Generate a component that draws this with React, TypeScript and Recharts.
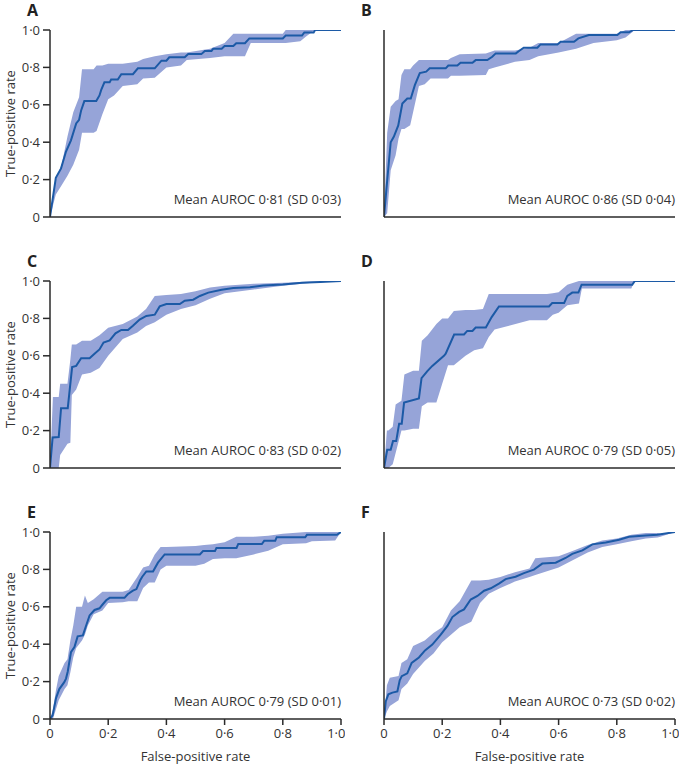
import { ComposedChart, Area, Line, XAxis, YAxis } from "recharts"

// [fpr, mean tpr]
const meanA = [
  [0, 0], [0.02, 0.21], [0.038, 0.26], [0.055, 0.35], [0.072, 0.41], [0.09, 0.5], [0.1, 0.52],
  [0.107, 0.57], [0.118, 0.62], [0.159, 0.62], [0.17, 0.65], [0.176, 0.68], [0.187, 0.72],
  [0.205, 0.72], [0.21, 0.735], [0.233, 0.735], [0.245, 0.764], [0.285, 0.764], [0.302, 0.795],
  [0.36, 0.795], [0.383, 0.836], [0.4, 0.836], [0.41, 0.854], [0.463, 0.854], [0.475, 0.871],
  [0.52, 0.871], [0.532, 0.888], [0.555, 0.888], [0.561, 0.9], [0.59, 0.9], [0.6, 0.914],
  [0.63, 0.914], [0.64, 0.929], [0.67, 0.929], [0.685, 0.955], [0.8, 0.955], [0.81, 0.97],
  [0.866, 0.97], [0.874, 0.987], [0.906, 0.987], [0.911, 1], [1, 1],
]
// [fpr, lower, upper]
const bandA = [
  [0, 0, 0], [0.02, 0.12, 0.2], [0.04, 0.17, 0.28], [0.06, 0.22, 0.43], [0.08, 0.28, 0.56],
  [0.1, 0.36, 0.64], [0.11, 0.45, 0.79], [0.15, 0.45, 0.79], [0.16, 0.46, 0.81], [0.18, 0.55, 0.81],
  [0.2, 0.63, 0.82], [0.22, 0.65, 0.82], [0.25, 0.7, 0.82], [0.3, 0.71, 0.83], [0.32, 0.74, 0.845],
  [0.36, 0.745, 0.86], [0.4, 0.8, 0.87], [0.45, 0.81, 0.88], [0.47, 0.84, 0.88], [0.55, 0.85, 0.9],
  [0.6, 0.86, 0.93], [0.63, 0.86, 0.98], [0.67, 0.86, 0.98], [0.69, 0.93, 0.98], [0.8, 0.93, 0.98],
  [0.81, 0.93, 1], [0.86, 0.94, 1], [0.88, 0.965, 1], [0.91, 1, 1], [1, 1, 1],
]

const meanB = [
  [0, 0], [0.011, 0.196], [0.023, 0.4], [0.034, 0.43], [0.049, 0.49], [0.063, 0.607], [0.08, 0.634],
  [0.092, 0.634], [0.106, 0.705], [0.123, 0.77], [0.145, 0.777], [0.157, 0.795], [0.212, 0.795],
  [0.221, 0.81], [0.252, 0.81], [0.263, 0.825], [0.304, 0.825], [0.315, 0.839], [0.355, 0.839],
  [0.372, 0.857], [0.384, 0.875], [0.453, 0.875], [0.464, 0.888], [0.48, 0.905], [0.527, 0.905],
  [0.538, 0.923], [0.596, 0.923], [0.607, 0.9375], [0.653, 0.9375], [0.668, 0.955], [0.704, 0.973],
  [0.802, 0.973], [0.813, 0.9875], [0.842, 0.9875], [0.856, 1], [1, 1],
]
const bandB = [
  [0, 0, 0], [0.011, 0.02, 0.45], [0.023, 0.25, 0.59], [0.04, 0.33, 0.62], [0.05, 0.42, 0.63],
  [0.06, 0.47, 0.76], [0.07, 0.47, 0.79], [0.09, 0.49, 0.79], [0.1, 0.56, 0.81], [0.12, 0.7, 0.84],
  [0.14, 0.71, 0.84], [0.16, 0.74, 0.84], [0.22, 0.74, 0.84], [0.23, 0.755, 0.85], [0.26, 0.755, 0.87],
  [0.35, 0.76, 0.875], [0.36, 0.79, 0.88], [0.38, 0.8, 0.89], [0.45, 0.83, 0.89], [0.5, 0.84, 0.905],
  [0.53, 0.86, 0.93], [0.6, 0.88, 0.93], [0.66, 0.9, 0.98], [0.72, 0.93, 0.98], [0.8, 0.945, 0.98],
  [0.83, 0.96, 1], [0.855, 0.99, 1], [0.86, 1, 1], [1, 1, 1],
]

const meanC = [
  [0, 0], [0.009, 0.163], [0.03, 0.166], [0.038, 0.32], [0.061, 0.32], [0.076, 0.54], [0.09, 0.546],
  [0.107, 0.587], [0.136, 0.587], [0.153, 0.611], [0.17, 0.634], [0.184, 0.671], [0.205, 0.682],
  [0.225, 0.72], [0.245, 0.738], [0.268, 0.738], [0.285, 0.761], [0.308, 0.794], [0.331, 0.813],
  [0.36, 0.82], [0.377, 0.864], [0.4, 0.877], [0.446, 0.877], [0.463, 0.895], [0.492, 0.9],
  [0.515, 0.92], [0.544, 0.938], [0.59, 0.953], [0.63, 0.963], [0.687, 0.966], [0.733, 0.976],
  [0.8, 0.981], [0.866, 0.99], [0.929, 0.994], [1, 1],
]
const bandC = [
  [0, 0, 0], [0.01, 0, 0.38], [0.03, 0, 0.38], [0.035, 0.07, 0.45], [0.06, 0.13, 0.45],
  [0.07, 0.135, 0.58], [0.075, 0.39, 0.66], [0.09, 0.42, 0.66], [0.11, 0.5, 0.68], [0.14, 0.51, 0.68],
  [0.17, 0.535, 0.71], [0.2, 0.6, 0.75], [0.25, 0.69, 0.77], [0.3, 0.725, 0.81], [0.33, 0.76, 0.85],
  [0.36, 0.78, 0.92], [0.4, 0.82, 0.925], [0.45, 0.85, 0.93], [0.5, 0.87, 0.945], [0.55, 0.905, 0.965],
  [0.6, 0.935, 0.975], [0.7, 0.955, 0.985], [0.8, 0.975, 0.99], [0.9, 0.99, 0.997], [1, 1, 1],
]

const meanD = [
  [0, 0], [0.011, 0.097], [0.023, 0.097], [0.031, 0.144], [0.042, 0.144], [0.052, 0.237],
  [0.061, 0.237], [0.069, 0.35], [0.12, 0.372], [0.129, 0.48], [0.149, 0.518], [0.166, 0.546],
  [0.206, 0.6], [0.212, 0.611], [0.241, 0.714], [0.275, 0.714], [0.286, 0.733], [0.304, 0.733],
  [0.315, 0.751], [0.35, 0.751], [0.37, 0.807], [0.395, 0.864], [0.567, 0.864], [0.578, 0.882],
  [0.619, 0.882], [0.63, 0.92], [0.647, 0.938], [0.668, 0.938], [0.679, 0.98], [0.853, 0.98],
  [0.862, 1], [1, 1],
]
const bandD = [
  [0, 0, 0], [0.01, 0, 0.2], [0.015, 0, 0.2], [0.03, 0.02, 0.22], [0.04, 0.08, 0.34], [0.06, 0.2, 0.36],
  [0.07, 0.2, 0.5], [0.1, 0.21, 0.52], [0.12, 0.21, 0.52], [0.13, 0.33, 0.68], [0.15, 0.35, 0.71],
  [0.18, 0.35, 0.77], [0.2, 0.45, 0.8], [0.22, 0.55, 0.8], [0.24, 0.55, 0.84], [0.28, 0.6, 0.845],
  [0.31, 0.63, 0.845], [0.34, 0.64, 0.85], [0.36, 0.7, 0.93], [0.38, 0.74, 0.93], [0.5, 0.79, 0.93],
  [0.56, 0.79, 0.93], [0.58, 0.82, 0.935], [0.6, 0.83, 0.94], [0.63, 0.87, 0.98], [0.67, 0.88, 1],
  [0.68, 0.96, 1], [0.85, 0.96, 1], [0.86, 1, 1], [1, 1, 1],
]

const meanE = [
  [0, 0], [0.009, 0.019], [0.021, 0.113], [0.032, 0.16], [0.049, 0.197], [0.055, 0.216],
  [0.061, 0.254], [0.072, 0.357], [0.084, 0.385], [0.095, 0.442], [0.113, 0.447], [0.126, 0.508],
  [0.136, 0.554], [0.153, 0.583], [0.17, 0.592], [0.18, 0.611], [0.193, 0.635], [0.205, 0.648],
  [0.256, 0.648], [0.267, 0.667], [0.285, 0.686], [0.297, 0.695], [0.31, 0.742], [0.317, 0.761],
  [0.331, 0.789], [0.354, 0.789], [0.371, 0.836], [0.394, 0.88], [0.515, 0.88], [0.526, 0.898],
  [0.567, 0.898], [0.572, 0.915], [0.641, 0.915], [0.647, 0.936], [0.728, 0.936], [0.736, 0.953],
  [0.774, 0.953], [0.779, 0.972], [0.877, 0.972], [0.883, 0.985], [0.986, 0.985], [1, 1],
]
const bandE = [
  [0, 0, 0], [0.01, 0, 0.05], [0.02, 0.05, 0.15], [0.03, 0.1, 0.23], [0.05, 0.16, 0.3],
  [0.06, 0.18, 0.32], [0.07, 0.25, 0.42], [0.08, 0.33, 0.5], [0.09, 0.38, 0.6], [0.11, 0.42, 0.6],
  [0.12, 0.45, 0.66], [0.13, 0.5, 0.62], [0.15, 0.56, 0.64], [0.18, 0.58, 0.68], [0.2, 0.62, 0.68],
  [0.25, 0.625, 0.68], [0.27, 0.63, 0.69], [0.3, 0.63, 0.76], [0.32, 0.7, 0.81], [0.34, 0.73, 0.82],
  [0.36, 0.73, 0.88], [0.38, 0.8, 0.92], [0.4, 0.82, 0.92], [0.5, 0.82, 0.925], [0.53, 0.83, 0.93],
  [0.56, 0.855, 0.935], [0.6, 0.86, 0.945], [0.64, 0.86, 0.975], [0.7, 0.88, 0.975], [0.75, 0.9, 0.98],
  [0.8, 0.935, 0.99], [0.88, 0.94, 1], [0.9, 0.95, 1], [0.98, 0.955, 1], [1, 1, 1],
]

const meanF = [
  [0, 0], [0.006, 0.094], [0.015, 0.132], [0.029, 0.141], [0.046, 0.147], [0.054, 0.207],
  [0.061, 0.229], [0.08, 0.244], [0.095, 0.3], [0.12, 0.329], [0.141, 0.367], [0.166, 0.398],
  [0.195, 0.451], [0.218, 0.498], [0.235, 0.545], [0.258, 0.573], [0.275, 0.586], [0.298, 0.639],
  [0.321, 0.658], [0.344, 0.686], [0.367, 0.699], [0.395, 0.724], [0.418, 0.748], [0.452, 0.761],
  [0.481, 0.78], [0.515, 0.799], [0.544, 0.831], [0.59, 0.836], [0.624, 0.861], [0.647, 0.883],
  [0.682, 0.902], [0.716, 0.934], [0.762, 0.944], [0.808, 0.959], [0.842, 0.974], [0.899, 0.981],
  [0.939, 0.985], [1, 1],
]
const bandF = [
  [0, 0, 0], [0.01, 0.04, 0.18], [0.02, 0.07, 0.22], [0.05, 0.1, 0.23], [0.06, 0.16, 0.3],
  [0.08, 0.19, 0.32], [0.1, 0.24, 0.39], [0.14, 0.31, 0.42], [0.17, 0.35, 0.46], [0.2, 0.41, 0.49],
  [0.23, 0.45, 0.58], [0.26, 0.49, 0.63], [0.3, 0.52, 0.74], [0.33, 0.62, 0.74], [0.36, 0.67, 0.745],
  [0.4, 0.7, 0.76], [0.45, 0.735, 0.785], [0.5, 0.76, 0.805], [0.52, 0.77, 0.86], [0.6, 0.81, 0.87],
  [0.65, 0.85, 0.9], [0.7, 0.89, 0.93], [0.75, 0.92, 0.955], [0.8, 0.935, 0.965], [0.85, 0.95, 0.985],
  [0.9, 0.965, 0.995], [0.94, 0.97, 0.995], [0.95, 0.975, 0.99], [1, 1, 1],
]

const letters = ["A", "B", "C", "D", "E", "F"]
const aurocLabels = [
  "Mean AUROC 0·81 (SD 0·03)",
  "Mean AUROC 0·86 (SD 0·04)",
  "Mean AUROC 0·83 (SD 0·02)",
  "Mean AUROC 0·79 (SD 0·05)",
  "Mean AUROC 0·79 (SD 0·01)",
  "Mean AUROC 0·73 (SD 0·02)",
]
const means = [meanA, meanB, meanC, meanD, meanE, meanF]
const bands = [bandA, bandB, bandC, bandD, bandE, bandF]
const ticks = [0, 0.2, 0.4, 0.6, 0.8, 1]

const FONT = "'Open Sans', sans-serif"
const TEXT = "#333"
const AXIS = "#2a2a2a"
const fmt = (v: number) => (v === 0 ? "0" : v.toFixed(1).replace(".", "·"))

const PLOT_W = 291
const PLOT_H = 187

function Panel({ idx }: { idx: number }) {
  const col = idx % 2
  const row = Math.floor(idx / 2)
  const plotLeft = col === 0 ? 50 : 384
  const plotTop = 30 + row * 251
  const bottomRow = row === 2
  const xAxisH = bottomRow ? 48 : 30
  const lineData = means[idx].map(([x, y]) => ({ x, y }))
  const bandData = bands[idx].map(([x, lo, hi]) => ({ x, band: [lo, hi] }))

  return (
    <>
      <div style={{ position: "absolute", left: plotLeft - 50, top: plotTop - 30 }}>
        <ComposedChart
          width={50 + PLOT_W + 4}
          height={30 + PLOT_H + xAxisH}
          margin={{ top: 30, right: 4, bottom: 0, left: 0 }}
        >
          <XAxis
            dataKey="x"
            type="number"
            domain={[0, 1]}
            ticks={ticks}
            allowDataOverflow
            height={xAxisH}
            stroke={AXIS}
            strokeWidth={1.5}
            tickSize={6}
            tickMargin={4}
            tickFormatter={fmt}
            tick={bottomRow ? { fill: TEXT, fontSize: 13, fontFamily: FONT } : false}
            label={
              bottomRow
                ? { value: "False-positive rate", position: "insideBottom", offset: 6, fill: TEXT, fontSize: 13, fontFamily: FONT }
                : undefined
            }
          />
          <YAxis
            type="number"
            domain={[0, 1]}
            ticks={ticks}
            allowDataOverflow
            width={50}
            stroke={AXIS}
            strokeWidth={1.5}
            tickSize={7}
            tickMargin={3}
            tickFormatter={fmt}
            tick={col === 0 ? { fill: TEXT, fontSize: 13, fontFamily: FONT } : false}
            label={
              col === 0
                ? {
                    content: () => (
                      <text
                        x={10}
                        y={30 + PLOT_H / 2}
                        transform={`rotate(-90 10 ${30 + PLOT_H / 2})`}
                        textAnchor="middle"
                        dominantBaseline="central"
                        fill={TEXT}
                        fontSize={13}
                        fontFamily={FONT}
                      >
                        True-positive rate
                      </text>
                    ),
                  }
                : undefined
            }
          />
          <Area
            data={bandData}
            dataKey="band"
            type="linear"
            stroke="none"
            fill="#96a4d8"
            fillOpacity={1}
            isAnimationActive={false}
          />
          <Line
            data={lineData}
            dataKey="y"
            type="linear"
            stroke="#1c5aa6"
            strokeWidth={2}
            dot={false}
            isAnimationActive={false}
          />
        </ComposedChart>
      </div>
      <div
        style={{
          position: "absolute",
          left: plotLeft - 23,
          top: plotTop - 30,
          fontSize: 16,
          fontWeight: 700,
          lineHeight: "20px",
          fontFamily: FONT,
          color: "#222",
        }}
      >
        {letters[idx]}
      </div>
      <div
        style={{
          position: "absolute",
          left: plotLeft,
          width: PLOT_W,
          top: plotTop + PLOT_H - 27,
          lineHeight: "18px",
          textAlign: "right",
          fontSize: 13,
          fontFamily: FONT,
          color: TEXT,
        }}
      >
        {aurocLabels[idx]}
      </div>
    </>
  )
}

export default function App() {
  return (
    <div style={{ position: "absolute", left: 0, top: 0, width: 685, height: 767, background: "#fff" }}>
      {letters.map((_, i) => (
        <Panel key={i} idx={i} />
      ))}
    </div>
  )
}
